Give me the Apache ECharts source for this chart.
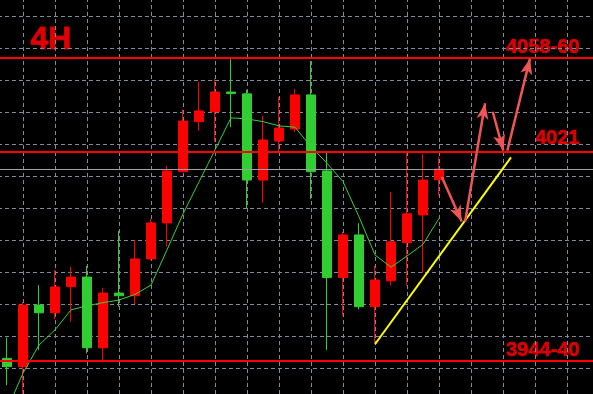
<!DOCTYPE html>
<html>
<head>
<meta charset="utf-8">
<script src="https://cdn.jsdelivr.net/npm/echarts@6/dist/echarts.min.js"></script>
<style>
html,body{margin:0;padding:0;background:#000;}
#c{width:593px;height:394px;}
</style>
</head>
<body>
<div id="c"></div>
<script>
// bar slots (category axis); candles occupy slots 1..28
const categories = ['0','1','2','3','4','5','6','7','8','9','10','11','12','13','14','15','16','17','18','19','20','21','22','23','24','25','26','27','28','29','30','31','32','33','34','35','36','37','38'];
const candleSlots = [1,2,3,4,5,6,7,8,9,10,11,12,13,14,15,16,17,18,19,20,21,22,23,24,25,26,27,28];
const opens  = [3939.6,3936.5,3959.6,3956.7,3966.5,3970.1,3943.6,3964.1,3963.1,3976.9,3990.4,4009.6,4028.4,4032.1,4039.5,4038.8,4006.5,4021.1,4025.6,4038.4,4009.9,3969.9,3985.9,3959.0,3968.7,3983.0,3993.4,4006.6];
const closes = [3936.5,3959.6,3956.7,3966.4,3970.1,3943.6,3964.1,3963.1,3976.9,3990.4,4009.9,4028.6,4032.4,4039.5,4038.9,4006.5,4021.5,4026.0,4038.4,4009.6,3969.9,3985.9,3959.0,3969.0,3983.3,3993.8,4006.5,4010.6];
const lows   = [3929.6,3926.3,3942.8,3954.3,3953.4,3941.5,3939.0,3959.0,3960.0,3976.5,3981.5,4009.5,4025.0,4020.6,4026.3,3995.9,3998.0,4017.1,4024.6,3999.4,3942.8,3955.6,3958.0,3945.3,3966.9,3966.9,3971.7,4000.6];
const highs  = [3947.4,3960.9,3967.1,3972.8,3974.0,3974.3,3966.1,3987.4,3984.0,3991.9,4011.8,4033.0,4043.3,4044.3,4051.8,4040.3,4030.6,4037.6,4040.6,4051.1,4016.6,3987.1,3990.3,3974.3,4002.0,4017.0,4016.3,4015.2];
const maValues = [3920.3,3934.1,3944.6,3950.3,3957.8,3959.3,3960.5,3961.5,3963.6,3967.1,3980.3,3993.8,4005.8,4017.8,4029.8,4029.4,4028.4,4026.8,4026.3,4019.0,4012.8,4005.9,3992.7,3978.4,3973.8,3978.0,3982.4,3992.1];

// horizontal levels
const levelValues = [4052.25, 4017.0, 3938.6];
const levelLabels = ['4058-60', '4021', '3944-40'];
const priceLineValue = 4010.6;
const timeframeLabel = '4H';

// trend line [slot, price] start / end
const trendStart = [24, 3944.9];
const trendEnd   = [32.5, 4015.0];

// projected path arrows: [fromSlot, fromPrice, toSlot, toPrice]
const arrowFromX = [28.17, 29.63, 31.36, 32.27];
const arrowFromY = [4007.7, 3990.9, 4032.1, 4017.5];
const arrowToX   = [29.42, 30.88, 32.02, 33.69];
const arrowToY   = [3990.9, 4035.3, 4017.5, 4052.1];

const candleData = candleSlots.map((s, k) => [s, opens[k], closes[k], lows[k], highs[k]]);
const maData = candleSlots.map((s, k) => [s, maValues[k]]);

const gridDash = {color: '#7d8b9c', width: 1, type: [4, 3]};

const levelLines = levelValues.map(v => ({
  yAxis: v, symbol: 'none',
  lineStyle: {color: '#ff0000', width: 2, type: 'solid'}
}));
levelLines.push({yAxis: priceLineValue, symbol: 'none', lineStyle: {color: '#9aa3ad', width: 1, type: 'solid'}});

const pathLines = [];
pathLines.push([
  {coord: trendStart, symbol: 'none', lineStyle: {color: '#ffff00', width: 2, type: 'solid'}},
  {coord: trendEnd, symbol: 'none'}
]);
for (let k = 0; k < arrowFromX.length; k++) {
  pathLines.push([
    {coord: [arrowFromX[k], arrowFromY[k]], symbol: 'none', lineStyle: {color: '#f05555', width: 2.5, type: 'solid'}},
    {coord: [arrowToX[k], arrowToY[k]], symbol: 'arrow', symbolSize: [9, 16]}
  ]);
}

const labelFont = 'bold 20px "Liberation Sans", Arial, sans-serif';
const labelStyle = (t) => ({text: t, fill: '#dc0000', stroke: '#dc0000', lineWidth: 0.7, font: labelFont});

const chart = echarts.init(document.getElementById('c'), null, {renderer: 'canvas'});
chart.setOption({
  animation: false,
  backgroundColor: '#000000',
  grid: {left: -9, top: -16, width: 608, height: 416, containLabel: false, outerBoundsMode: 'none'},
  xAxis: [
    {type: 'category', data: categories, boundaryGap: false, show: true,
     axisLine: {show: false}, axisTick: {show: false}, axisLabel: {show: false}, splitLine: {show: false}},
    {type: 'value', min: 0, max: 38, interval: 2, show: true, position: 'bottom',
     axisLine: {show: false}, axisTick: {show: false}, axisLabel: {show: false},
     splitLine: {show: true, lineStyle: gridDash}}
  ],
  yAxis: {type: 'value', min: 3924, max: 4080, interval: 12, scale: true,
    axisLine: {show: false}, axisTick: {show: false}, axisLabel: {show: false},
    splitLine: {show: true, lineStyle: gridDash}},
  series: [
    {
      type: 'line', xAxisIndex: 1, data: [], silent: true,
      markLine: {silent: true, symbol: 'none', label: {show: false}, data: levelLines}
    },
    {
      type: 'candlestick', xAxisIndex: 0,
      encode: {x: 0, y: [1, 2, 3, 4]},
      data: candleData,
      barWidth: 10,
      itemStyle: {color: '#ff0000', color0: '#32cd32', borderColor: '#ff0000', borderColor0: '#32cd32', borderWidth: 1}
    },
    {
      type: 'line', xAxisIndex: 1, data: maData, symbol: 'none', smooth: false, clip: true,
      lineStyle: {color: '#3ccf3c', width: 1},
      markLine: {silent: true, label: {show: false}, data: pathLines}
    }
  ],
  graphic: [
    {type: 'text', left: 30, top: 24, style: {text: timeframeLabel, fill: '#e00000', stroke: '#e00000', lineWidth: 0.8, font: 'bold 32px "Liberation Sans", Arial, sans-serif'}},
    {type: 'text', right: 13, top: 37, style: labelStyle(levelLabels[0])},
    {type: 'text', right: 13, top: 128, style: labelStyle(levelLabels[1])},
    {type: 'text', right: 13, top: 340, style: labelStyle(levelLabels[2])}
  ]
});
</script>
</body>
</html>
